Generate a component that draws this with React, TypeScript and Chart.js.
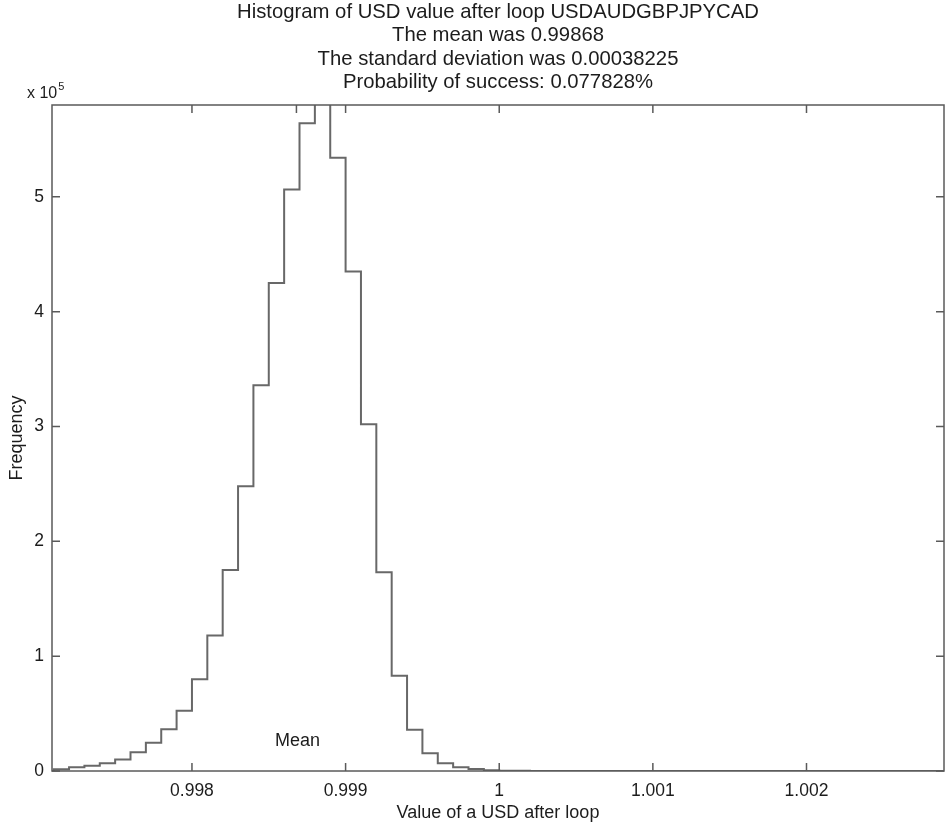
import React, { useEffect, useRef } from 'react';
import { Chart, registerables } from 'chart.js';

Chart.register(...registerables);

const titleLines = [
  'Histogram of USD value after loop USDAUDGBPJPYCAD',
  'The mean was 0.99868',
  'The standard deviation was 0.00038225',
  'Probability of success: 0.077828%',
];

const xAxisTitle = 'Value of a USD after loop';
const yAxisTitle = 'Frequency';
const meanLabel = 'Mean';
const meanValue = 0.99868;

// bin edges (59) and counts (58)
const binEdges = [
  0.9971, 0.9972, 0.9973, 0.9974, 0.9975, 0.9976, 0.9977, 0.9978, 0.9979, 0.998,
  0.9981, 0.9982, 0.9983, 0.9984, 0.9985, 0.9986, 0.9987, 0.9988, 0.9989, 0.999,
  0.9991, 0.9992, 0.9993, 0.9994, 0.9995, 0.9996, 0.9997, 0.9998, 0.9999, 1.0,
  1.0001, 1.0002, 1.0003, 1.0004, 1.0005, 1.0006, 1.0007, 1.0008, 1.0009, 1.001,
  1.0011, 1.0012, 1.0013, 1.0014, 1.0015, 1.0016, 1.0017, 1.0018, 1.0019, 1.002,
  1.0021, 1.0022, 1.0023, 1.0024, 1.0025, 1.0026, 1.0027, 1.0028, 1.0029,
];

const binCounts = [
  1500, 3200, 4600, 6700, 10000, 16300, 24600, 36300, 52500, 80000,
  118000, 175000, 248000, 336000, 425000, 506500, 564000, 592000, 534000, 435000,
  302000, 173000, 83000, 36000, 15400, 6700, 3200, 1700, 600, 300,
  150, 70, 30, 15, 8, 4, 2, 1, 1, 0,
  0, 0, 0, 0, 0, 0, 0, 0, 0, 0,
  0, 0, 0, 0, 0, 0, 0, 1,
];

const xMin = 0.997089;
const xMax = 1.002895;
const yMin = 0;
const yMax = 580000;

const xTickValues = [0.998, 0.999, 1, 1.001, 1.002];
const xTickLabels = ['0.998', '0.999', '1', '1.001', '1.002'];
const yTickValues = [0, 100000, 200000, 300000, 400000, 500000];
const yTickLabels = ['0', '1', '2', '3', '4', '5'];
const yExponentBase = 'x 10';
const yExponent = '5';

const FONT = '"Liberation Sans", Arial, Helvetica, sans-serif';
const TEXT_COLOR = '#1c1c1c';
const AXIS_COLOR = '#5a5a5a';
const LINE_COLOR = '#686868';

const framePlugin = {
  id: 'matlabFrame',
  afterDraw(chart: any) {
    const { ctx, chartArea, scales } = chart;
    const xs = scales.x;
    const ys = scales.y;
    const { left, right, top, bottom } = chartArea;
    const tickLen = 8;
    ctx.save();
    // box
    ctx.strokeStyle = AXIS_COLOR;
    ctx.lineWidth = 1.5;
    ctx.strokeRect(left, top, right - left, bottom - top);
    // ticks (inward, all four sides)
    ctx.beginPath();
    xTickValues.forEach((v) => {
      const px = xs.getPixelForValue(v);
      ctx.moveTo(px, bottom);
      ctx.lineTo(px, bottom - tickLen);
      ctx.moveTo(px, top);
      ctx.lineTo(px, top + tickLen);
    });
    yTickValues.forEach((v) => {
      const py = ys.getPixelForValue(v);
      ctx.moveTo(left, py);
      ctx.lineTo(left + tickLen, py);
      ctx.moveTo(right, py);
      ctx.lineTo(right - tickLen, py);
    });
    // short mean marker at top
    const mx = xs.getPixelForValue(meanValue);
    ctx.moveTo(mx, top);
    ctx.lineTo(mx, top + tickLen);
    ctx.stroke();

    ctx.fillStyle = TEXT_COLOR;
    // x tick labels
    ctx.font = `17.5px ${FONT}`;
    ctx.textAlign = 'center';
    ctx.textBaseline = 'middle';
    xTickValues.forEach((v, i) => {
      ctx.fillText(xTickLabels[i], xs.getPixelForValue(v), bottom + 20);
    });
    // y tick labels
    ctx.textAlign = 'right';
    yTickValues.forEach((v, i) => {
      ctx.fillText(yTickLabels[i], left - 8, ys.getPixelForValue(v));
    });
    // exponent
    ctx.textAlign = 'left';
    ctx.font = `16px ${FONT}`;
    ctx.fillText(yExponentBase, 27, top - 11);
    const w = ctx.measureText(yExponentBase).width;
    ctx.font = `11px ${FONT}`;
    ctx.fillText(yExponent, 27 + w + 1, top - 18);

    // x axis title
    ctx.font = `18px ${FONT}`;
    ctx.textAlign = 'center';
    ctx.fillText(xAxisTitle, (left + right) / 2, bottom + 42);
    // y axis title
    ctx.save();
    ctx.translate(17, (top + bottom) / 2);
    ctx.rotate(-Math.PI / 2);
    ctx.fillText(yAxisTitle, 0, 0);
    ctx.restore();

    // mean label
    ctx.fillText(meanLabel, mx + 1, ys.getPixelForValue(26000));

    // title
    ctx.font = `20.3px ${FONT}`;
    titleLines.forEach((t, i) => {
      ctx.fillText(t, (left + right) / 2, 12.5 + i * 23.4);
    });
    ctx.restore();
  },
};

export default function App() {
  const canvasRef = useRef<HTMLCanvasElement | null>(null);

  useEffect(() => {
    document.body.style.margin = '0';
    const canvas = canvasRef.current;
    if (!canvas) return;
    const points: { x: number; y: number }[] = [];
    points.push({ x: binEdges[0], y: 0 });
    binCounts.forEach((c, i) => points.push({ x: binEdges[i], y: c }));
    points.push({ x: binEdges[binEdges.length - 1], y: binCounts[binCounts.length - 1] });
    points.push({ x: binEdges[binEdges.length - 1], y: 0 });

    const chart = new Chart(canvas, {
      type: 'line',
      data: {
        datasets: [
          {
            data: points,
            stepped: 'before',
            borderColor: LINE_COLOR,
            borderWidth: 2,
            pointRadius: 0,
            fill: false,
          },
        ],
      },
      options: {
        responsive: false,
        animation: false,
        devicePixelRatio: 1,
        layout: { padding: { left: 52, right: 2, top: 105, bottom: 58 } },
        plugins: { legend: { display: false }, title: { display: false }, tooltip: { enabled: false } },
        scales: {
          x: { type: 'linear', min: xMin, max: xMax, display: false },
          y: { type: 'linear', min: yMin, max: yMax, display: false },
        },
      },
      plugins: [framePlugin],
    });
    return () => chart.destroy();
  }, []);

  return <canvas ref={canvasRef} width={946} height={829} style={{ display: 'block' }} />;
}
